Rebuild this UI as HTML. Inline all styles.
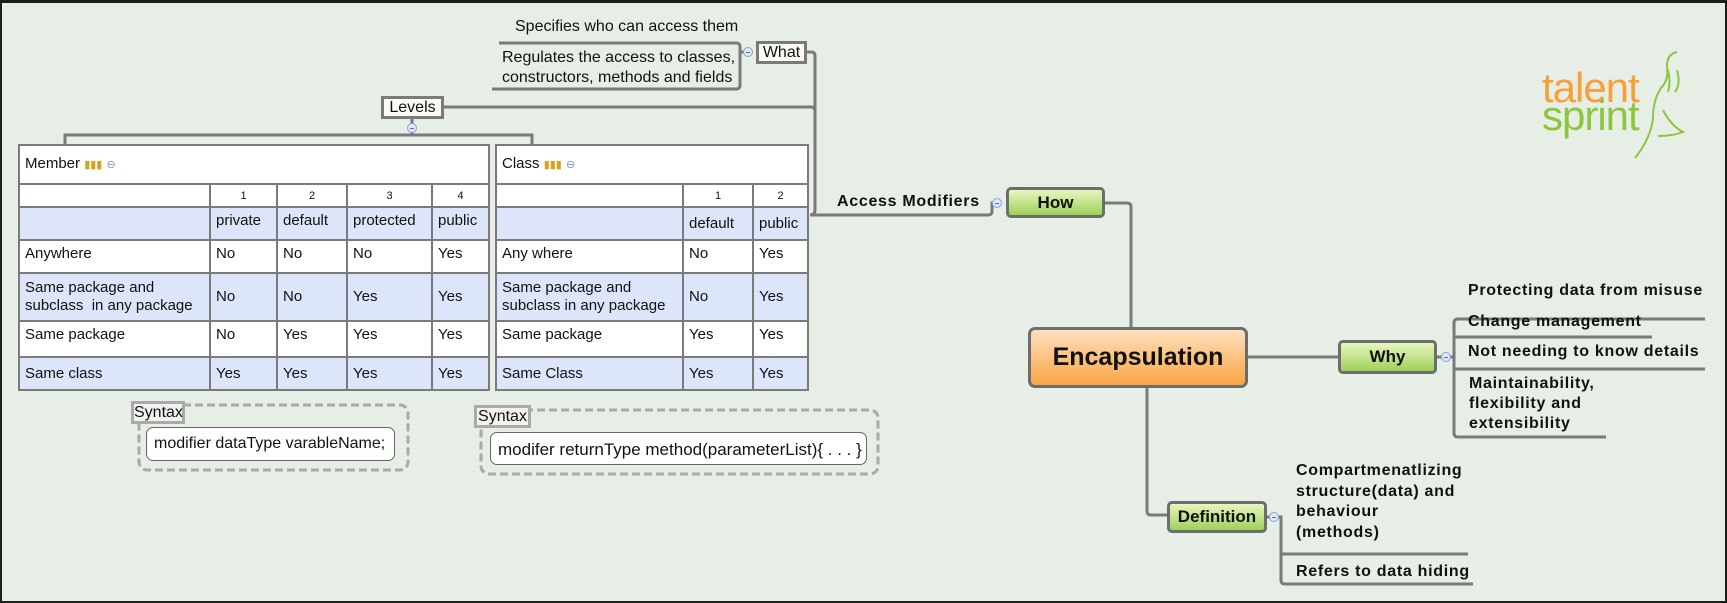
<!DOCTYPE html>
<html><head><meta charset="utf-8"><style>
*{margin:0;padding:0;box-sizing:border-box}
body{width:1727px;height:603px;overflow:hidden;background:#e7eee5;font-family:"Liberation Sans",sans-serif;color:#111;position:relative}
#frame{position:absolute;left:0;top:0;width:1727px;height:603px;border:2px solid #1e1e1e;border-top-width:3px}
.a{position:absolute;white-space:nowrap}
.t{font-size:16px}
.b{font-weight:bold;font-size:16px;letter-spacing:0.7px}
.box{position:absolute;border:3px solid #7a7a7a;background:#fbfbf4;font-size:16px;text-align:center}
.g{position:absolute;border:3px solid #6d6d6d;border-radius:5px;background:linear-gradient(#e6f7c0,#9fd05a);font-weight:bold;font-size:17px;text-align:center}
table{position:absolute;border-collapse:collapse;table-layout:fixed;font-size:15px;background:#fff}
td{border:2px solid #7a7a7a;padding:0 5px;vertical-align:middle;overflow:hidden;white-space:nowrap;line-height:18px}
tr.bl td{background:#dde5fa}
tr.n td{font-size:11px;text-align:center}
tr.h td{vertical-align:top;padding-top:4px}
.c{position:absolute;width:10px;height:10px;border-radius:50%;border:1px solid #8aa0d0;background:#dfe7fb}
.c:after{content:"";position:absolute;left:2px;top:4px;width:4px;height:1px;background:#5070b0}
</style></head><body>
<svg class="a" style="left:0;top:0" width="1727" height="603">
<g fill="none" stroke="#7a7a7a" stroke-width="3">
<path d="M499 43H736q4 0 4 4V85q0 4-4 4H492"/>
<path d="M740 52h8"/>
<path d="M807 52h4q4 0 4 4V210q0 5-5 5H816"/>
<path d="M444 107H811q4 0 4 4"/>
<path d="M412 119V135M65 144V135H532V144"/>
<path d="M816 215H988q4 0 4-4v-8h5"/>
<path d="M1105 203h22q4 0 4 4V327"/>
<path d="M1248 357H1338"/>
<path d="M1437 357h17"/>
<path d="M1705 319H1458q-4 0-4 4V433q0 4 4 4H1606"/>
<path d="M1454 337H1652M1454 369H1705"/>
<path d="M1147 388V511q0 4 4 4H1167"/>
<path d="M1267 517h14v63q0 4 4 4H1473M1281 554H1468"/>
</g>
<g fill="none" stroke="#aaa" stroke-width="3" stroke-dasharray="8,4">
<rect x="139" y="405" width="269" height="65" rx="8"/>
<rect x="481" y="410" width="397" height="64" rx="8"/>
</g>
<g fill="none" stroke="#8cc63f" stroke-width="2">
<path d="M1677 52q-10 2-10 14q2 14-6 22q-8 12-8 30q-2 20-18 40"/>
<path d="M1668 70q3 12 0 22M1677 70q4 14-2 22M1663 110q8 16 20 22q-10 4-25 4"/>
</g>
</svg>
<div class="a t" style="left:515px;top:18px">Specifies who can access them</div>
<div class="a t" style="left:502px;top:48px;line-height:20px">Regulates the access to classes,<br>constructors, methods and fields</div>
<div class="c" style="left:743px;top:47px"></div>
<div class="box" style="left:756px;top:41px;width:51px;height:23px;line-height:17px">What</div>
<div class="box" style="left:381px;top:96px;width:63px;height:23px;line-height:17px">Levels</div>
<div class="c" style="left:407px;top:123px"></div>

<table style="left:18px;top:144px;width:470px">
<colgroup><col style="width:191px"><col style="width:67px"><col style="width:70px"><col style="width:85px"><col style="width:57px"></colgroup>
<tr style="height:39px"><td colspan="5">Member <span style="color:#d9a020;font-size:11px">▮▮▮</span> <span style="color:#7a90c8;font-size:11px">⊖</span></td></tr>
<tr class="n" style="height:23px"><td></td><td>1</td><td>2</td><td>3</td><td>4</td></tr>
<tr class="bl h" style="height:33px"><td></td><td>private</td><td>default</td><td>protected</td><td>public</td></tr>
<tr class="h" style="height:33px"><td>Anywhere</td><td>No</td><td>No</td><td>No</td><td>Yes</td></tr>
<tr class="bl" style="height:48px"><td>Same package and<br>subclass&nbsp; in any package</td><td>No</td><td>No</td><td>Yes</td><td>Yes</td></tr>
<tr class="h" style="height:36px"><td>Same package</td><td>No</td><td>Yes</td><td>Yes</td><td>Yes</td></tr>
<tr class="bl" style="height:33px"><td>Same class</td><td>Yes</td><td>Yes</td><td>Yes</td><td>Yes</td></tr>
</table>
<table style="left:495px;top:144px;width:312px">
<colgroup><col style="width:187px"><col style="width:70px"><col style="width:55px"></colgroup>
<tr style="height:39px"><td colspan="3">Class <span style="color:#d9a020;font-size:11px">▮▮▮</span> <span style="color:#7a90c8;font-size:11px">⊖</span></td></tr>
<tr class="n" style="height:23px"><td></td><td>1</td><td>2</td></tr>
<tr class="bl" style="height:33px"><td></td><td>default</td><td>public</td></tr>
<tr class="h" style="height:33px"><td>Any where</td><td>No</td><td>Yes</td></tr>
<tr class="bl" style="height:48px"><td>Same package and<br>subclass in any package</td><td>No</td><td>Yes</td></tr>
<tr class="h" style="height:36px"><td>Same package</td><td>Yes</td><td>Yes</td></tr>
<tr class="bl" style="height:33px"><td>Same Class</td><td>Yes</td><td>Yes</td></tr>
</table>

<div class="box" style="left:131px;top:401px;width:54px;height:23px;line-height:17px;background:#f2f2ee;border-color:#aaa">Syntax</div>
<div class="a t" style="left:146px;top:427px;width:249px;height:34px;background:#fff;border:1px solid #666;border-radius:7px;padding:7px 0 0 7px;font-size:16px">modifier dataType varableName;</div>
<div class="box" style="left:474px;top:405px;width:57px;height:23px;line-height:17px;background:#f2f2ee;border-color:#aaa">Syntax</div>
<div class="a t" style="left:490px;top:432px;width:377px;height:33px;background:#fff;border:1px solid #666;border-radius:7px;padding:7px 0 0 7px;font-size:17px">modifer returnType method(parameterList){ . . . }</div>

<div class="a b" style="left:837px;top:193px">Access Modifiers</div>
<div class="c" style="left:992px;top:198px"></div>
<div class="g" style="left:1006px;top:187px;width:99px;height:31px;line-height:25px">How</div>
<div class="a" style="left:1028px;top:327px;width:220px;height:61px;border:3px solid #6d6d6d;border-radius:7px;background:linear-gradient(#fde0bd,#f9a545);font-weight:bold;font-size:25px;text-align:center;line-height:55px">Encapsulation</div>
<div class="g" style="left:1338px;top:340px;width:99px;height:34px;line-height:28px">Why</div>
<div class="c" style="left:1441px;top:352px"></div>
<div class="a b" style="left:1468px;top:282px">Protecting data from misuse</div>
<div class="a b" style="left:1468px;top:313px">Change management</div>
<div class="a b" style="left:1468px;top:343px">Not needing to know details</div>
<div class="a b" style="left:1469px;top:374px;line-height:20px">Maintainability,<br>flexibility and<br>extensibility</div>
<div class="g" style="left:1167px;top:501px;width:100px;height:32px;line-height:26px">Definition</div>
<div class="c" style="left:1269px;top:512px"></div>
<div class="a b" style="left:1296px;top:461px;line-height:20.5px">Compartmenatlizing<br>structure(data) and<br>behaviour<br>(methods)</div>
<div class="a b" style="left:1296px;top:563px">Refers to data hiding</div>

<div class="a" style="left:1542px;top:66px;font-size:42px;color:#f7a03a;letter-spacing:-1px;line-height:44px">talent</div>
<div class="a" style="left:1542px;top:94px;font-size:42px;color:#8cc63f;letter-spacing:-1px;line-height:44px">sprint</div>
<div id="frame"></div>
</body></html>
